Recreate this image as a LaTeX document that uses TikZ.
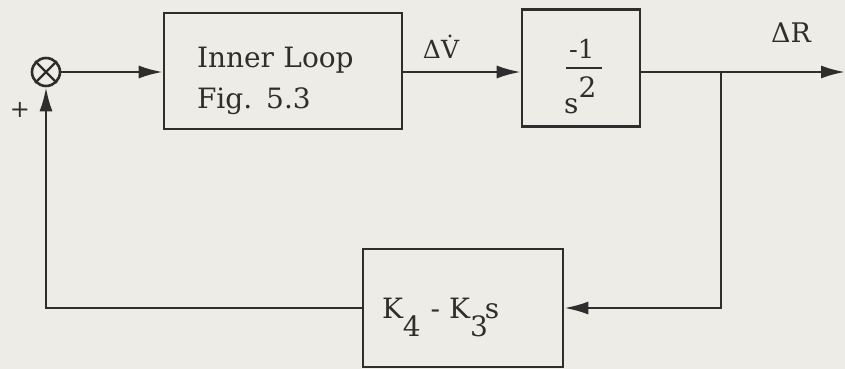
\documentclass[tikz,border=0pt]{standalone}
\usepackage{fontspec}
\setmainfont{DejaVu Serif}
\usepackage{xcolor}
\usepackage{tikz}
\usetikzlibrary{arrows.meta,positioning,calc}
\definecolor{paper}{RGB}{238,236,230}
\definecolor{ink}{RGB}{48,46,44}

\begin{document}
\begin{tikzpicture}[
  x=1pt, y=-1pt,
  every node/.style={font=\fontsize{28}{41}\selectfont, text=ink},
  box/.style={draw=ink, line width=2.6pt, align=left},
  sumnode/.style={draw=ink, circle, line width=2.6pt, minimum size=28pt, inner sep=0pt},
  lbl/.style={font=\fontsize{27}{30}\selectfont},
  arrow/.style={-{Latex[length=24pt, width=13pt]}, line width=2.4pt, draw=ink}
]
\fill[paper] (0,0) rectangle (845,369);
\useasboundingbox (0,0) rectangle (845,369);
% summing junction
\node[sumnode] (sum) at (46,72) {};
\draw[ink, line width=2.2pt] (sum.north west) -- (sum.south east);
\draw[ink, line width=2.2pt] (sum.north east) -- (sum.south west);
\node[lbl, font=\fontsize{24}{28}\selectfont] (plus) at (20,110) {+};
% blocks
\node[box, minimum width=238pt, minimum height=116pt, text width=172pt, inner xsep=33pt,
  text height=30pt, text depth=38pt] (inner) at (283,71) {Inner Loop\\Fig. 5.3};
\node[box, minimum width=118pt, minimum height=117pt, inner sep=0pt] (plant) at (581,68)
  {\hspace{6pt}\textcolor{ink}{\rule{36pt}{2pt}}};
\node[anchor=base west, inner sep=0pt, font=\fontsize{26}{28}\selectfont] (num) at (569,59) {-1};
\node[anchor=base west, inner sep=0pt] (den) at (564,113) {s\raisebox{16pt}{2}};
\node[box, minimum width=200pt, minimum height=118pt, text width=162pt, inner xsep=19pt,
  text height=30pt, text depth=10pt] (comp) at (463,308)
  {K\raisebox{-18pt}{4}\hspace{10pt}-\hspace{9pt}K\raisebox{-18pt}{3}\hspace{-3pt}s};
% signals
\coordinate (out) at (845,72);
\coordinate (branch) at (721,72);
\node[lbl, font=\fontsize{25}{30}\selectfont] (dv) at (441,47) {Δ\.{V}};
\node[lbl] (dr) at (791,33) {ΔR};
\draw[arrow] (sum) -- (inner.west |- sum);
\draw[arrow] (inner.east |- sum) -- (plant.west |- sum);
\draw[arrow] (plant.east |- out) -- (out);
\draw[arrow] (branch) |- (comp.east);
\draw[arrow] (comp.west) -| (sum.south);
\end{tikzpicture}
\end{document}
